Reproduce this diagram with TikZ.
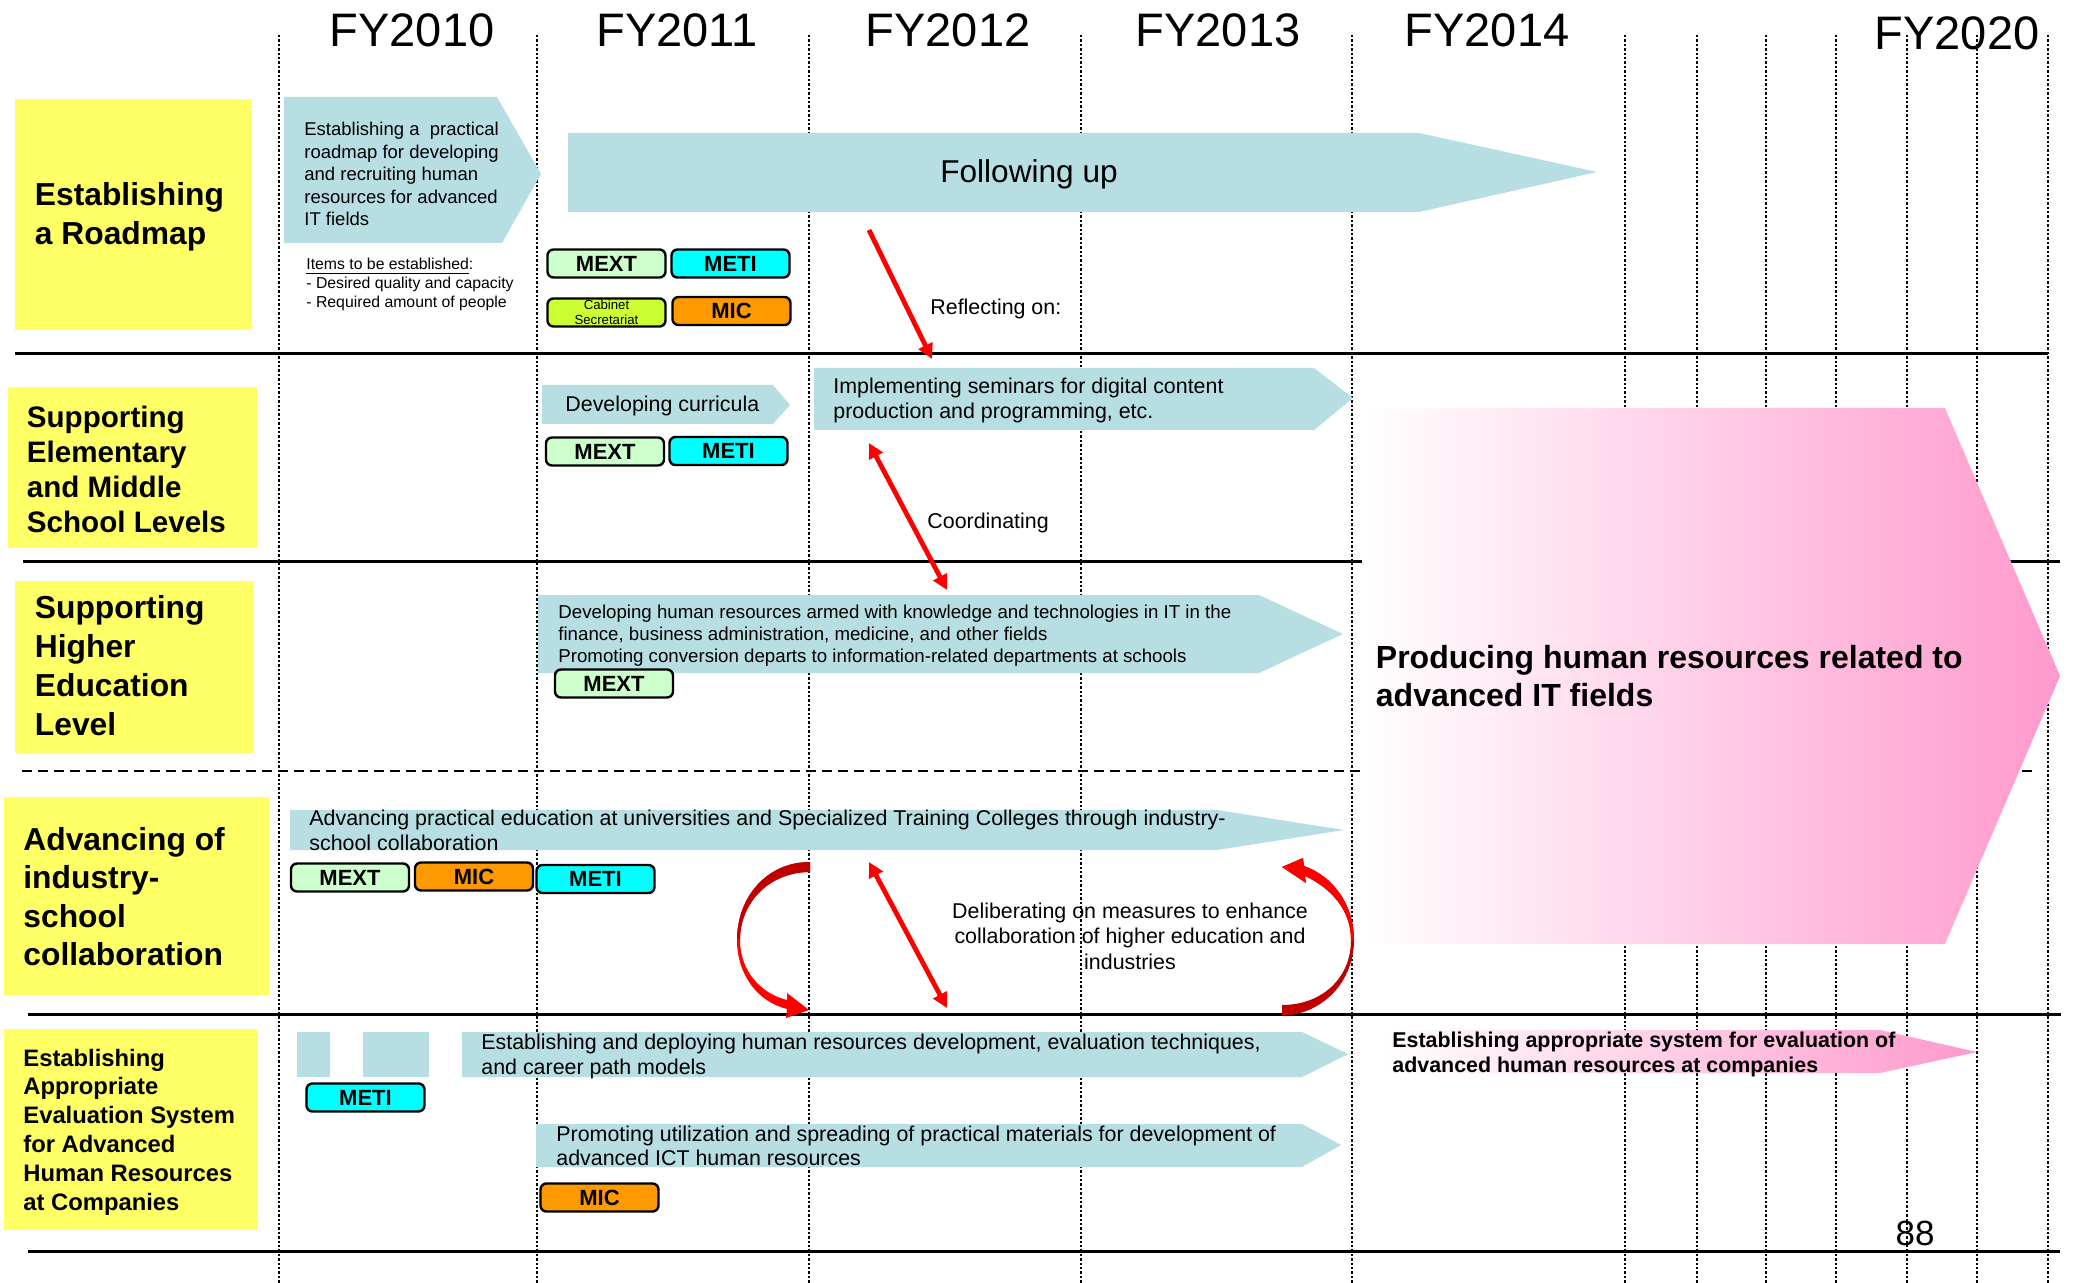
\documentclass[tikz,border=0pt]{standalone}
\usepackage{fontspec}
\setmainfont{Liberation Sans}
\usetikzlibrary{arrows.meta}

\definecolor{roadyellow}{RGB}{255,255,102}
\definecolor{barblue}{RGB}{183,222,226}
\definecolor{goalpink}{RGB}{255,153,204}
\definecolor{mextgreen}{RGB}{204,255,204}
\definecolor{meticyan}{RGB}{0,255,255}
\definecolor{micorange}{RGB}{255,153,0}
\definecolor{cabinetlime}{RGB}{204,255,51}
\definecolor{arrowred}{RGB}{255,0,0}
\definecolor{arrowdark}{RGB}{192,0,0}

% multi-line text whose reference point is the first baseline
\newcommand{\linesL}[1]{\begin{tabular}[t]{@{}l@{}}#1\end{tabular}}
\newcommand{\linesC}[1]{\begin{tabular}[t]{@{}c@{}}#1\end{tabular}}
\newcommand{\fsz}[2]{\fontsize{#1}{#2}\selectfont}

% outlines of the two curved block arrows
\def\leftcurve{(810,862) .. controls (766,862) and (737,898) .. (737,940)
  .. controls (737,975) and (758,1002) .. (787,1009) -- (786,1018) -- (809,1010)
  -- (787,993) -- (787,1000) .. controls (762,994) and (740,972) .. (740,940)
  .. controls (740,902) and (770,872) .. (810,872) -- cycle}
\def\rightcurve{(1282,1015.5) .. controls (1322,1015) and (1354,982) .. (1354,940)
  .. controls (1354,905) and (1333,876) .. (1304,866) -- (1303,858) -- (1282,867)
  -- (1306,883) -- (1305,876) .. controls (1331,888) and (1351,910) .. (1351,940)
  .. controls (1351,978) and (1322,1005) .. (1282,1005) -- cycle}

\tikzset{
  yearlbl/.style={inner sep=0, anchor=base, font=\fsz{23.5}{28}},
  txt/.style={inner sep=0, anchor=base west},
  tag/.style={draw=black, line width=1.2pt, rounded corners=3pt,
    minimum width=59pt, minimum height=14pt, inner sep=0,
    font=\fsz{11}{13}\bfseries},
  vgrid/.style={line width=1pt, dash pattern=on 1.2pt off 1pt},
  hrule/.style={line width=1.5pt},
  hdash/.style={line width=1pt, dash pattern=on 5pt off 3pt},
  oneway/.style={draw=arrowred, line width=2.4pt, -{Triangle[length=7.5pt,width=7.5pt]}},
  twoway/.style={draw=arrowred, line width=2.4pt,
    {Triangle[length=7.5pt,width=7.5pt]}-{Triangle[length=7.5pt,width=7.5pt]}},
}

\begin{document}
\begin{tikzpicture}[x=0.5pt,y=-0.5pt]
\useasboundingbox (0,0) rectangle (2073,1283);
\fill[white] (0,0) rectangle (2073,1283);

% year columns
\foreach \gx in {279,537,809,1081,1352,1625,1697,1766,1836,1907,1977,2048}
  \draw[vgrid] (\gx,35) -- (\gx,1283);

% row separators
\draw[hrule] (15,354) -- (2048,354);
\draw[hrule] (23,562) -- (2060,562);
\draw[hdash] (22,771) -- (2033,771);
\draw[hrule] (28,1014) -- (2061,1014);
\draw[hrule] (28,1251) -- (2060,1251);

% year headings
\node[yearlbl] (fy10) at (412,47) {FY2010};
\node[yearlbl] (fy11) at (677,47) {FY2011};
\node[yearlbl] (fy12) at (948,47) {FY2012};
\node[yearlbl] (fy13) at (1218,47) {FY2013};
\node[yearlbl] (fy14) at (1487,47) {FY2014};
\node[yearlbl] (fy20) at (1957,50) {FY2020};

% row headings
\fill[roadyellow] (15,99) rectangle (252,330);
\fill[roadyellow] (8,387) rectangle (257,548);
\fill[roadyellow] (15,581) rectangle (254,753);
\fill[roadyellow] (4,797) rectangle (269,995);
\fill[roadyellow] (4,1029) rectangle (258,1230);
\node[txt, font=\fsz{15.9}{19.5}\bfseries] (h1) at (34.5,206) {\linesL{Establishing\\a Roadmap}};
\node[txt, font=\fsz{14.8}{17.35}\bfseries] (h2) at (26.5,428) {\linesL{Supporting\\Elementary\\and Middle\\School Levels}};
\node[txt, font=\fsz{15.9}{19.5}\bfseries] (h3) at (34.5,618) {\linesL{Supporting\\Higher\\Education\\Level}};
\node[txt, font=\fsz{15.9}{19.25}\bfseries] (h4) at (23,850) {\linesL{Advancing of\\industry-\\school\\collaboration}};
\node[txt, font=\fsz{11.9}{14.4}\bfseries] (h5) at (23,1066) {\linesL{Establishing\\Appropriate\\Evaluation System\\for Advanced\\Human Resources\\at Companies}};

% measure bars
\fill[barblue] (284,97) -- (497,97) -- (541,174) -- (502,243) -- (284,243) -- cycle;
\fill[barblue] (568,133) -- (1419,133) -- (1597,172) -- (1419,212) -- (568,212) -- cycle;
\fill[barblue] (542,385) -- (773,385) -- (790,405) -- (773,424) -- (542,424) -- cycle;
\fill[barblue] (814,368) -- (1314,368) -- (1353,398) -- (1314,430) -- (814,430) -- cycle;
\fill[barblue] (538,595) -- (1259,595) -- (1343,634) -- (1259,673) -- (538,673) -- cycle;
\fill[barblue] (290,810) -- (1217,810) -- (1344,830) -- (1217,850) -- (290,850) -- cycle;
\fill[barblue] (297,1032) rectangle (330,1077);
\fill[barblue] (363,1032) rectangle (429,1077);
\fill[barblue] (462,1032) -- (1302,1032) -- (1348,1054) -- (1302,1077) -- (462,1077) -- cycle;
\fill[barblue] (536,1124) -- (1302,1124) -- (1341,1145) -- (1302,1167) -- (536,1167) -- cycle;

% goal arrows
\shade[left color=white, right color=goalpink]
  (1362,408) -- (1945,408) -- (2060,676) -- (1945,944) -- (1362,944) -- cycle;
\shade[left color=white, right color=goalpink]
  (1380,1030) -- (1880,1030) -- (1977,1052) -- (1880,1073) -- (1380,1073) -- cycle;

% bar texts
\node[txt, font=\fsz{9.25}{11.25}] (t1) at (304,136) {\linesL{Establishing a\ \ practical\\roadmap for developing\\and recruiting human\\resources for advanced\\IT fields}};
\node[txt, font=\fsz{7.9}{9.5}] (t1b) at (306,270) {\linesL{\underline{Items to be established}:\\- Desired quality and capacity\\- Required amount of people}};
\node[inner sep=0, anchor=base, font=\fsz{15.8}{19}] (t2) at (1029,183) {Following up};
\node[txt, font=\fsz{10.7}{12.5}] (t3) at (565,412) {Developing curricula};
\node[txt, font=\fsz{10.7}{12.5}] (t4) at (833,394) {\linesL{Implementing seminars for digital content\\production and programming, etc.}};
\node[txt, font=\fsz{9.34}{11}] (t5) at (558,618) {\linesL{Developing human resources armed with knowledge and technologies in IT in the\\finance, business administration, medicine, and other fields\\Promoting conversion departs to information-related departments at schools}};
\node[txt, font=\fsz{10.7}{12.9}] (t6) at (309,825) {\linesL{Advancing practical education at universities and Specialized Training Colleges through industry-\\school collaboration}};
\node[txt, font=\fsz{10.7}{12.5}] (t7) at (481,1049) {\linesL{Establishing and deploying human resources development, evaluation techniques,\\and career path models}};
\node[txt, font=\fsz{10.7}{12.1}] (t8) at (556,1141) {\linesL{Promoting utilization and spreading of practical materials for development of\\advanced ICT human resources}};
\node[txt, font=\fsz{10.7}{12.5}\bfseries] (t9) at (1392,1047) {\linesL{Establishing appropriate system for evaluation of\\advanced human resources at companies}};
\node[txt, font=\fsz{16}{19.2}\bfseries] (t10) at (1375.5,668) {\linesL{Producing human resources related to\\advanced IT fields}};

% ministries in charge
\node[tag, fill=mextgreen] (mext1) at (606.5,263.5) {MEXT};
\node[tag, fill=meticyan] (meti1) at (730.5,263.5) {METI};
\node[tag, fill=cabinetlime, font=\fsz{6.6}{7.6}, align=center] (cab1) at (606.5,312.5) {Cabinet\\Secretariat};
\node[tag, fill=micorange] (mic1) at (731.5,311) {MIC};
\node[tag, fill=mextgreen] (mext2) at (605,451.5) {MEXT};
\node[tag, fill=meticyan] (meti2) at (728.5,451) {METI};
\node[tag, fill=mextgreen] (mext3) at (614,683.5) {MEXT};
\node[tag, fill=mextgreen] (mext4) at (350,877.5) {MEXT};
\node[tag, fill=micorange] (mic4) at (474,876.5) {MIC};
\node[tag, fill=meticyan] (meti4) at (595.5,879) {METI};
\node[tag, fill=meticyan] (meti5) at (365.5,1097.5) {METI};
\node[tag, fill=micorange] (mic5) at (599.5,1197.5) {MIC};

% links between rows
\coordinate (refA) at (869,230);
\coordinate (refB) at (932,359);
\coordinate (coA) at (869,443);
\coordinate (coB) at (947,590);
\coordinate (deA) at (869,862);
\coordinate (deB) at (947,1008);
\draw[oneway] (refA) -- (refB);
\draw[twoway] (coA) -- (coB);
\draw[twoway] (deA) -- (deB);
\node[txt, font=\fsz{10.7}{12.5}] (l1) at (930,315) {Reflecting on:};
\node[txt, font=\fsz{10.7}{12.5}] (l2) at (927,529) {Coordinating};
\node[inner sep=0, anchor=base, font=\fsz{10.7}{12.75}] (l3) at (1130,918) {\linesC{Deliberating on measures to enhance\\collaboration of higher education and\\industries}};

% curved block arrows
\fill[arrowred] \leftcurve;
\begin{scope}
  \clip (700,850) rectangle (830,938);
  \fill[arrowdark] \leftcurve;
\end{scope}
\fill[arrowdark] \rightcurve;
\begin{scope}
  \clip (1270,850) rectangle (1370,940);
  \fill[arrowred] \rightcurve;
\end{scope}

% page number
\node[inner sep=0, anchor=base, font=\fsz{17.5}{20}] (pg) at (1915,1245) {88};
\end{tikzpicture}
\end{document}
